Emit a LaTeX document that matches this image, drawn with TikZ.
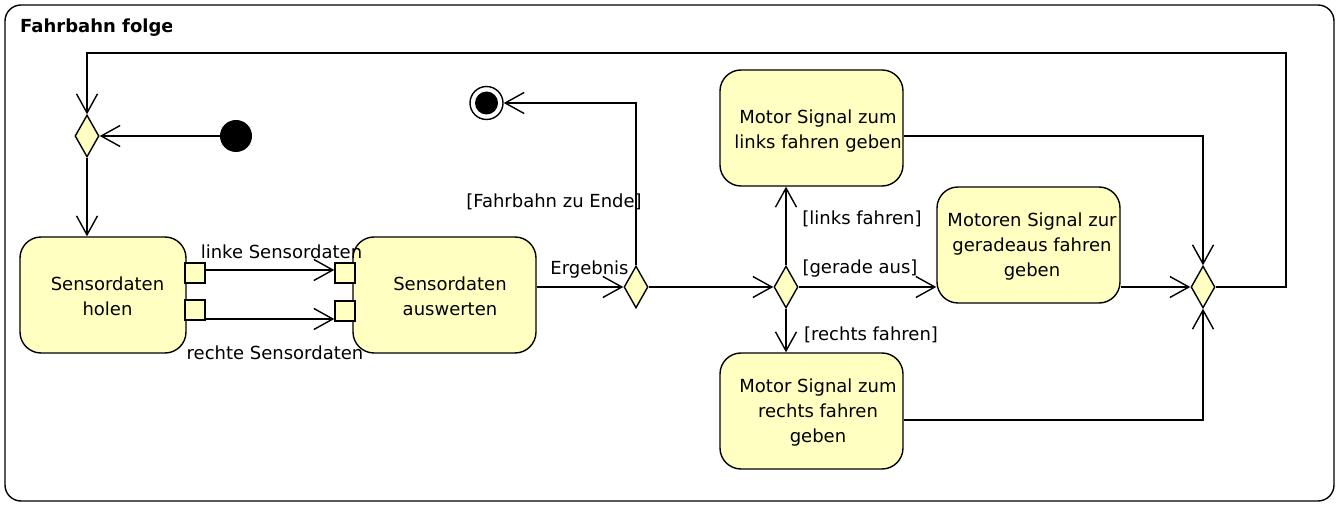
\documentclass[tikz,border=0pt]{standalone}
\usepackage{fontspec}
\setmainfont{DejaVu Sans}
\usetikzlibrary{shapes.geometric,arrows.meta}
\definecolor{actfill}{RGB}{255,255,194}
\begin{document}
\begin{tikzpicture}[x=1pt,y=-1pt,
  every node/.style={font=\fontsize{18}{25}\selectfont},
  ln/.style={line width=1.4pt},
  arr/.style={ln,-{Straight Barb[length=19pt,width=21pt,line width=1.4pt]}},
  act/.style={draw,ln,fill=actfill,rounded corners=21pt,inner sep=0pt},
  pin/.style={draw,ln,fill=actfill,minimum size=20pt,inner sep=0pt},
  dia/.style={draw,ln,fill=actfill,diamond,minimum width=24pt,minimum height=42pt,inner sep=0pt},
  txt/.style={align=center,inner sep=0pt},
  lbl/.style={inner sep=0pt}]
\useasboundingbox (0,0) rectangle (1343,510);
\draw[ln,rounded corners=16pt] (5,5) rectangle (1334,501);
\begin{scope}
\clip (0,0) rectangle (171,50);
\node[anchor=base west,inner sep=0pt,font=\fontsize{18}{25}\selectfont\bfseries] (title) at (20,33) {Fahrbahn folge};
\end{scope}

% nodes
\node[dia] (m1) at (87,136) {};
\node[circle,fill=black,minimum size=32pt,inner sep=0pt] (init) at (236,136) {};
\node[act,minimum width=166pt,minimum height=116pt] (holen) at (103,295) {};
\node[txt] (holenT) at (107.5,296) {Sensordaten\\holen};
\node[pin] (lp1) at (195,273) {};
\node[pin] (lp2) at (195,310) {};
\node[act,minimum width=183pt,minimum height=116pt] (ausw) at (444.5,295) {};
\node[txt] (auswT) at (450,296) {Sensordaten\\auswerten};
\node[pin] (rp1) at (345,273) {};
\node[pin] (rp2) at (345,311) {};
\node[dia] (d1) at (636,287) {};
\node[circle,draw,ln,fill=white,minimum size=33pt,inner sep=0pt] (final) at (486.5,103) {};
\node[circle,fill=black,minimum size=23pt,inner sep=0pt] (finalIn) at (486.5,103) {};
\node[dia] (d2) at (786,287) {};
\node[act,minimum width=183pt,minimum height=116pt] (links) at (811.5,128) {};
\node[txt] (linksT) at (818,131) {Motor Signal zum\\links fahren geben};
\node[act,minimum width=183pt,minimum height=116pt] (gerade) at (1028.5,245) {};
\node[txt] (geradeT) at (1032,246.5) {Motoren Signal zur\\geradeaus fahren\\geben};
\node[act,minimum width=183pt,minimum height=116pt] (rechts) at (811.5,411) {};
\node[txt] (rechtsT) at (818,413) {Motor Signal zum\\rechts fahren\\geben};
\node[dia] (m2) at (1203,287) {};
\coordinate (c1) at (1286,53);

% connectors
\draw[arr] (init) -- (m1.east);
\draw[arr] (m1.south) -- (m1.south |- holen.north);
\draw[arr] (m2.east) -- (m2.east -| c1) -- (c1) -- (c1 -| m1.north) -- (m1.north);
\draw[arr] (lp1.east |- 0,270) -- (rp1.west |- 0,270);
\draw[arr] (lp2.east |- 0,319) -- (rp2.west |- 0,319);
\draw[arr] (ausw.east |- d1.west) -- (d1.west);
\draw[arr] (d1.north) |- (final);
\draw[arr] (d1.east) -- (d2.west);
\draw[arr] (d2.north) -- (d2.north |- links.south);
\draw[arr] (d2.south) -- (d2.south |- rechts.north);
\draw[arr] (d2.east) -- (d2.east -| gerade.west);
\draw[arr] (links.east |- 0,136) -| (m2.north);
\draw[arr] (rechts.east |- 0,420) -| (m2.south);
\draw[arr] (gerade.east |- m2.west) -- (m2.west);

% labels
\node[lbl] (l1) at (281.5,251.5) {linke Sensordaten};
\node[lbl] (l2) at (275,352.5) {rechte Sensordaten};
\node[lbl] (l3) at (589.5,270) {Ergebnis};
\node[lbl] (l4) at (554,202) {[Fahrbahn zu Ende]};
\node[lbl] (l5) at (862,219) {[links fahren]};
\node[lbl] (l6) at (860,269) {[gerade aus]};
\node[lbl] (l7) at (871,335) {[rechts fahren]};
\end{tikzpicture}
\end{document}
